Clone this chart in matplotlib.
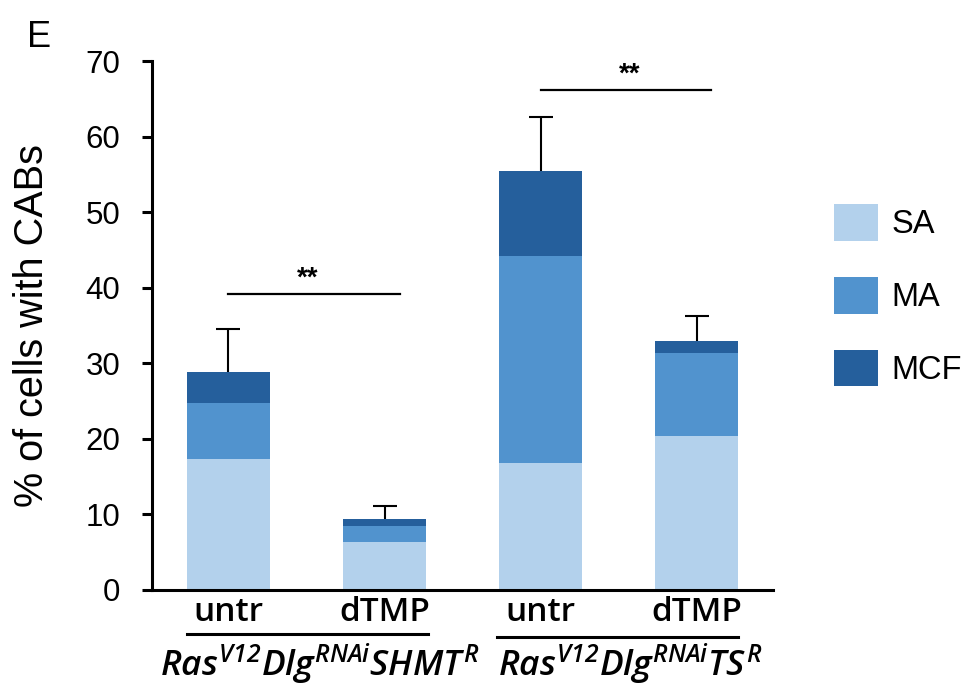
import matplotlib
matplotlib.use("Agg")
import matplotlib.pyplot as plt
import numpy as np

# ---- data ----
conditions = ["untr", "dTMP", "untr", "dTMP"]
SA = [17.3, 6.3, 16.8, 20.4]
MA = [7.5, 2.2, 27.4, 10.9]
MCF = [4.0, 0.9, 11.2, 1.7]
err = [5.7, 1.7, 7.2, 3.2]
series_names = ["SA", "MA", "MCF"]
colors = ["#B3D1EC", "#5193CE", "#255F9C"]
groups = [r"$Ras^{V12}Dlg^{RNAi}SHMT^{R}$", r"$Ras^{V12}Dlg^{RNAi}TS^{R}$"]
yticks = [0, 10, 20, 30, 40, 50, 60, 70]

plt.rcParams["font.family"] = ["Liberation Sans", "DejaVu Sans"]
plt.rcParams["mathtext.fontset"] = "custom"
plt.rcParams["mathtext.rm"] = "Open Sans:italic:semibold"
plt.rcParams["mathtext.it"] = "Open Sans:italic:semibold"
plt.rcParams["mathtext.bf"] = "Open Sans:italic:bold"

fig = plt.figure(figsize=(9.61, 6.87), dpi=100)
ax = fig.add_axes([0.1582, 0.1412, 0.6462, 0.770])

x = np.arange(len(conditions))
width = 0.53
SA_a, MA_a, MCF_a = np.array(SA), np.array(MA), np.array(MCF)
tot = SA_a + MA_a + MCF_a

ax.errorbar(x, tot, yerr=err, fmt="none", ecolor="black", elinewidth=1.5,
            capsize=8.5, capthick=1.5, zorder=1)
b1 = ax.bar(x, SA_a, width, color=colors[0], label=series_names[0], zorder=2)
b2 = ax.bar(x, MA_a, width, bottom=SA_a, color=colors[1], label=series_names[1], zorder=2)
b3 = ax.bar(x, MCF_a, width, bottom=SA_a + MA_a, color=colors[2], label=series_names[2], zorder=2)

ax.set_xlim(-0.49, 3.49)
ax.set_ylim(0, 70)
ax.set_yticks(yticks)
ax.tick_params(axis="y", labelsize=22.5, width=2.2, length=7, pad=16, direction="out")
ax.set_xticks(x)
ax.set_xticklabels(conditions, fontsize=24, fontweight="semibold",
                   family=["Open Sans", "DejaVu Sans"])
ax.tick_params(axis="x", length=0, pad=4)
for s in ["top", "right"]:
    ax.spines[s].set_visible(False)
for s in ["left", "bottom"]:
    ax.spines[s].set_linewidth(2.2)

ax.set_ylabel("% of cells with CABs", fontsize=28.5)
ax.yaxis.set_label_coords(-0.163, 0.5)

# significance brackets
ax.plot([0.0, 1.1], [39.2, 39.2], color="black", lw=1.6, clip_on=False)
ax.text(0.51, 39.5, "**", ha="center", va="bottom", fontsize=20, fontweight="bold")
ax.plot([2.0, 3.09], [66.2, 66.2], color="black", lw=1.6, clip_on=False)
ax.text(2.57, 66.5, "**", ha="center", va="bottom", fontsize=20, fontweight="bold")

# group underlines and labels
fig.add_artist(plt.Line2D([187/961, 428/961], [1-634/687, 1-634/687], color="black", lw=2.2))
fig.add_artist(plt.Line2D([497/961, 738/961], [1-637/687, 1-637/687], color="black", lw=2.2))
fig.text(320/961, 1-664/687, groups[0], ha="center", va="center", fontsize=25.5)
fig.text(630/961, 1-664/687, groups[1], ha="center", va="center", fontsize=25.5)

fig.text(27/961, 1-47/687, "E", ha="left", va="baseline", fontsize=26)

fig.legend(handles=[b1, b2, b3], labels=series_names, loc="upper left",
           bbox_to_anchor=(834/961, 1-204/687), frameon=False, fontsize=23.5,
           handlelength=1.36, handleheight=1.36, labelspacing=1.1,
           handletextpad=0.4, borderpad=0, borderaxespad=0)

fig.savefig("out.png", dpi=100)
